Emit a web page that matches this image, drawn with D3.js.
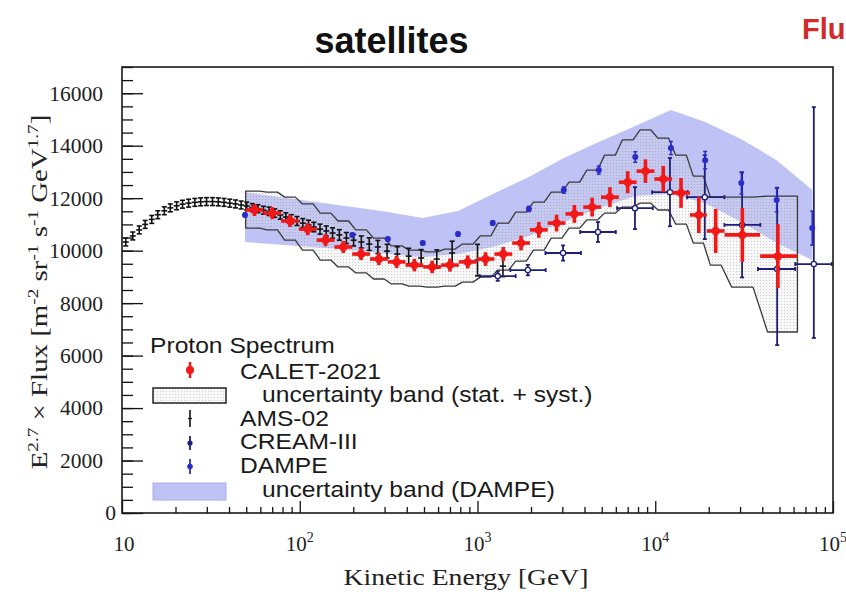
<!DOCTYPE html>
<html>
<head>
<meta charset="utf-8">
<script src="https://cdn.jsdelivr.net/npm/d3@7"></script>
<style>
  body { margin: 0; background: #fff; }
  svg { display: block; }
</style>
</head>
<body>
<svg id="chart" width="846" height="592"></svg>
<script>
// ---------------- data ----------------
// AMS-02 proton flux (E^2.7 x flux)
const amsE   = [10.5, 11.5, 12.5, 13.5, 14.7, 15.9, 17.3, 18.7, 20.3, 21.9, 23.7, 25.7, 27.7, 29.9, 32.3, 34.8, 37.5, 40.4, 43.5, 46.8, 50.3, 54.1, 58.2, 62.5, 67.2, 72.3, 77.7, 83.5, 89.7, 96.5, 104, 112, 120, 130, 141, 153, 167, 183, 201, 222, 246, 275, 310, 354, 410, 482, 590, 720, 1000, 1390];
const amsV   = [10330, 10560, 10790, 11000, 11190, 11370, 11520, 11630, 11710, 11770, 11810, 11840, 11860, 11870, 11870, 11860, 11840, 11810, 11780, 11740, 11700, 11640, 11600, 11540, 11500, 11430, 11360, 11280, 11200, 11130, 11050, 10980, 10900, 10820, 10750, 10670, 10600, 10480, 10400, 10330, 10250, 10140, 9980, 9870, 9790, 9720, 9680, 9910, 9640, 9410];
const amsErr = [150, 150, 150, 150, 150, 150, 150, 150, 150, 150, 150, 150, 150, 150, 150, 150, 150, 150, 150, 150, 150, 150, 150, 150, 160, 160, 160, 160, 170, 170, 170, 180, 180, 190, 190, 200, 200, 210, 220, 230, 240, 250, 260, 280, 300, 320, 350, 450, 600, 400];

// CALET-2021 bins: centre, low edge, high edge (GeV)
const calE  = [55.6, 70.0, 88.1, 110.9, 139.6, 175.8, 221.3, 278.6, 350.8, 441.6, 555.9, 699.8, 881.0, 1109, 1396, 1758, 2213, 2786, 3508, 4416, 5559, 6998, 8810, 11092, 13964, 17579, 21878, 30903, 48978];
const calLo = [49.6, 62.4, 78.5, 98.9, 124.5, 156.7, 197.2, 248.3, 312.6, 393.6, 495.5, 623.7, 785.2, 988.6, 1245, 1567, 1972, 2483, 3126, 3936, 4955, 6237, 7852, 9886, 12445, 15668, 19500, 24550, 38900];
const calHi = [62.4, 78.5, 98.9, 124.5, 156.7, 197.2, 248.3, 312.6, 393.6, 495.5, 623.7, 785.2, 988.6, 1245, 1567, 1972, 2483, 3126, 3936, 4955, 6237, 7852, 9886, 12445, 15668, 19500, 24550, 38900, 63100];
const calV  = [11550, 11430, 11130, 10820, 10400, 10140, 9870, 9680, 9570, 9450, 9380, 9450, 9570, 9680, 9870, 10290, 10790, 11050, 11400, 11660, 12040, 12610, 13030, 12730, 12200, 11360, 10750, 10600, 9790];
const calErr = [230, 230, 230, 230, 230, 230, 230, 230, 230, 240, 240, 250, 250, 260, 270, 280, 300, 320, 340, 360, 380, 420, 450, 500, 570, 690, 840, 1030, 1220];
// CALET uncertainty band (stat. + syst.)
const calBandUp  = [12270, 12230, 12040, 11780, 11430, 11130, 10790, 10480, 10180, 10020, 9950, 10060, 10250, 10560, 11050, 11470, 11850, 12230, 12610, 13070, 13640, 14220, 14600, 14290, 13640, 12840, 12040, 12040, 12080];
const calBandLow = [10860, 10790, 10400, 10020, 9640, 9380, 9150, 8920, 8730, 8650, 8610, 8650, 8800, 8990, 9260, 9600, 10020, 10480, 10860, 11170, 11430, 11660, 11810, 11550, 11010, 10290, 9450, 8610, 6900];

// CREAM-III
const crE     = [1300, 1920, 3030, 4760, 7690, 12100, 19000, 30800, 48500, 78000];
const crLo    = [1030, 1530, 2410, 3780, 6100, 9600, 15100, 24500, 37800, 61300];
const crHi    = [1640, 2420, 3820, 6000, 9690, 15200, 24500, 39000, 61300, 98500];
const crV     = [9030, 9260, 9910, 10710, 11620, 12230, 12040, 10980, 9300, 9490];
const crErrUp = [180, 200, 290, 380, 800, 1300, 1600, 2000, 3100, 5980];
const crErrDn = [180, 200, 290, 380, 800, 1300, 1600, 2000, 2900, 2820];

// DAMPE
const dmpE   = [49.2, 197.6, 313, 492, 777, 1218, 1946, 3059, 4812, 7720, 12250, 19090, 30500, 48200, 76400];
const dmpV   = [11360, 10600, 10440, 10290, 10630, 11050, 11590, 12310, 13070, 13570, 13910, 13450, 12580, 11930, 10860];
const dmpErr = [60, 60, 60, 60, 70, 80, 100, 120, 150, 200, 250, 330, 420, 450, 650];
const dmpBandUp  = [12230, 11660, 11470, 11240, 11510, 12160, 12810, 13530, 14140, 14750, 15360, 14900, 14250, 13450, 12310];
const dmpBandLow = [10330, 10020, 9870, 9760, 9870, 10140, 10560, 11090, 11620, 12080, 12160, 11810, 11090, 10290, 9640];

// axes
const xMajor = [10, 100, 1000, 10000, 100000];
const xMajorExp = ["", "2", "3", "4", "5"];
const yMajor = [0, 2000, 4000, 6000, 8000, 10000, 12000, 14000, 16000];

const legendItems = ["CALET-2021", "uncertainty band (stat. + syst.)", "AMS-02", "CREAM-III", "DAMPE", "uncertainty band (DAMPE)"];

// ---------------- drawing ----------------
const svg = d3.select("#chart");
svg.append("rect").attr("width", 846).attr("height", 592).attr("fill", "#fff");

const x = d3.scaleLog().domain([10, 1e5]).range([122, 833]);
const y = d3.scaleLinear().domain([0, 17000]).range([513, 67]);

const COL_CAL = "#f21818", COL_CREAM = "#1e1e78", COL_DMP = "#2b2bcc", COL_BAND = "#bec2f5";

const defs = svg.append("defs");
const pat = defs.append("pattern").attr("id", "dots")
  .attr("width", 3).attr("height", 3).attr("patternUnits", "userSpaceOnUse");
pat.append("rect").attr("width", 3).attr("height", 3).attr("fill", "rgba(225,225,225,0.22)");
pat.append("rect").attr("x", 1).attr("y", 1).attr("width", 1).attr("height", 1).attr("fill", "rgba(110,110,110,0.32)");

defs.append("clipPath").attr("id", "frameClip").append("rect")
  .attr("x", 122).attr("y", 67).attr("width", 711).attr("height", 446);

const plot = svg.append("g").attr("clip-path", "url(#frameClip)");

// DAMPE uncertainty band
const bandPts = dmpE.map((e, i) => [x(e), y(dmpBandUp[i])])
  .concat(dmpE.map((e, i) => [x(e), y(dmpBandLow[i])]).reverse());
plot.append("path").attr("d", d3.line()(bandPts) + "Z")
  .attr("fill", COL_BAND).attr("stroke", "none");

// CALET band as a staircase following the energy bins
function stairs(vals) {
  const pts = [];
  const n = vals.length;
  calLo.forEach((lo, i) => {
    const a = x(lo), b = x(calHi[i]);
    const ins = (b - a) * 0.2;
    pts.push([i === 0 ? a : a + ins, y(vals[i])]);
    pts.push([i === n - 1 ? b : b - ins, y(vals[i])]);
  });
  return pts;
}
const calPoly = stairs(calBandUp).concat(stairs(calBandLow).reverse());
plot.append("path").attr("d", d3.line()(calPoly) + "Z")
  .attr("fill", "url(#dots)").attr("stroke", "#3a3a3a").attr("stroke-width", 1.3)
  .attr("stroke-linejoin", "round");

// AMS-02 points
const ams = plot.append("g").attr("stroke", "#111").attr("stroke-width", 1.6);
amsE.forEach((e, i) => {
  const cx = x(e), cy = y(amsV[i]);
  const t = y(amsV[i] + amsErr[i]), b = y(amsV[i] - amsErr[i]);
  ams.append("line").attr("x1", cx).attr("x2", cx).attr("y1", t).attr("y2", b);
  ams.append("line").attr("x1", cx - 2.5).attr("x2", cx + 2.5).attr("y1", t).attr("y2", t);
  ams.append("line").attr("x1", cx - 2.5).attr("x2", cx + 2.5).attr("y1", b).attr("y2", b);
  ams.append("line").attr("x1", cx - 3).attr("x2", cx + 3).attr("y1", cy).attr("y2", cy);
});

// CREAM-III points
const cr = plot.append("g").attr("stroke", COL_CREAM).attr("stroke-width", 1.8);
crE.forEach((e, i) => {
  const cx = x(e), cy = y(crV[i]);
  cr.append("line").attr("x1", x(crLo[i])).attr("x2", x(crHi[i])).attr("y1", cy).attr("y2", cy);
  cr.append("line").attr("x1", cx).attr("x2", cx).attr("y1", y(crV[i] + crErrUp[i])).attr("y2", y(crV[i] - crErrDn[i]));
  [x(crLo[i]), x(crHi[i])].forEach(px => cr.append("line").attr("x1", px).attr("x2", px).attr("y1", cy - 2).attr("y2", cy + 2));
  [y(crV[i] + crErrUp[i]), y(crV[i] - crErrDn[i])].forEach(py => cr.append("line").attr("x1", cx - 2).attr("x2", cx + 2).attr("y1", py).attr("y2", py));
  cr.append("circle").attr("cx", cx).attr("cy", cy).attr("r", 2.6).attr("fill", "#fff").attr("stroke-width", 1.3);
});

// DAMPE points
const dm = plot.append("g").attr("stroke", COL_DMP).attr("stroke-width", 1.5);
dmpE.forEach((e, i) => {
  const cx = x(e), cy = y(dmpV[i]);
  const t = y(dmpV[i] + dmpErr[i]), b = y(dmpV[i] - dmpErr[i]);
  dm.append("line").attr("x1", cx).attr("x2", cx).attr("y1", t).attr("y2", b);
  dm.append("line").attr("x1", cx - 2).attr("x2", cx + 2).attr("y1", t).attr("y2", t);
  dm.append("line").attr("x1", cx - 2).attr("x2", cx + 2).attr("y1", b).attr("y2", b);
  dm.append("circle").attr("cx", cx).attr("cy", cy).attr("r", 3).attr("fill", COL_DMP).attr("stroke", "none");
});

// CALET points
const cal = plot.append("g").attr("stroke", COL_CAL).attr("stroke-width", 3.6).attr("stroke-linecap", "butt");
calE.forEach((e, i) => {
  const cx = x(e), cy = y(calV[i]);
  cal.append("line").attr("x1", x(calLo[i])).attr("x2", x(calHi[i])).attr("y1", cy).attr("y2", cy);
  cal.append("line").attr("x1", cx).attr("x2", cx).attr("y1", y(calV[i] + calErr[i])).attr("y2", y(calV[i] - calErr[i]));
  cal.append("circle").attr("cx", cx).attr("cy", cy).attr("r", 4.2).attr("fill", COL_CAL).attr("stroke", "none");
});

// ---------------- axes ----------------
const axisFont = "'Liberation Serif', 'Times New Roman', serif";

// y axis: minor ticks every 500, major every 2000
svg.append("g").attr("transform", "translate(122,0)")
  .call(d3.axisLeft(y).tickValues(d3.range(0, 17001, 500)).tickSize(-11).tickFormat(""))
  .call(g => g.select(".domain").remove())
  .call(g => g.selectAll("line").attr("stroke", "#111").attr("stroke-width", 1.3));
const yAx = svg.append("g").attr("transform", "translate(122,0)")
  .call(d3.axisLeft(y).tickValues(yMajor).tickSize(-21).tickPadding(21).tickFormat(d3.format("d")))
  .call(g => g.select(".domain").remove())
  .call(g => g.selectAll("line").attr("stroke", "#111").attr("stroke-width", 1.3));
yAx.selectAll("text").attr("font-family", axisFont).attr("font-size", 21.5).attr("fill", "#222")
  .attr("x", d => d === 0 ? -6 : -19);

// x axis: log ticks
const xMinor = [];
[10, 100, 1000, 10000].forEach(dec => { for (let k = 2; k <= 9; k++) xMinor.push(dec * k); });
svg.append("g").attr("transform", "translate(0,513)")
  .call(d3.axisBottom(x).tickValues(xMinor).tickSize(-6).tickFormat(""))
  .call(g => g.select(".domain").remove())
  .call(g => g.selectAll("line").attr("stroke", "#111").attr("stroke-width", 1.3));
svg.append("g").attr("transform", "translate(0,513)")
  .call(d3.axisBottom(x).tickValues(xMajor).tickSize(-12).tickFormat(""))
  .call(g => g.select(".domain").remove())
  .call(g => g.selectAll("line").attr("stroke", "#111").attr("stroke-width", 1.3));

const xLab = svg.append("g").attr("font-family", axisFont).attr("fill", "#222");
xMajor.forEach((v, i) => {
  const t = xLab.append("text").attr("x", x(v) + (i === 0 ? 2 : 0)).attr("y", 551)
    .attr("text-anchor", "middle").attr("font-size", 21);
  t.append("tspan").text("10");
  if (xMajorExp[i]) t.append("tspan").attr("font-size", 14).attr("dy", -9).text(xMajorExp[i]);
});

// frame
svg.append("rect").attr("x", 122).attr("y", 67).attr("width", 711).attr("height", 446)
  .attr("fill", "none").attr("stroke", "#1a1a1a").attr("stroke-width", 1.6);

// axis titles
function fitLength(sel, target, base) {
  const w = sel.node().getComputedTextLength();
  sel.attr("transform", base + ` scale(${target / w},1)`);
}
const xt = svg.append("text").attr("font-family", axisFont).attr("font-size", 24)
  .attr("fill", "#222").attr("text-anchor", "middle").text("Kinetic Energy [GeV]");
fitLength(xt, 245, "translate(466,585)");

const yParts = [["E", 0], ["2.7", 1], [" \u00d7 Flux [m", 0], ["-2", 1], [" sr", 0], ["-1", 1], [" s", 0], ["-1", 1], [" GeV", 0], ["1.7", 1], ["]", 0]];
const yt = svg.append("text").attr("font-family", axisFont).attr("font-size", 22.5)
  .attr("fill", "#222").attr("text-anchor", "middle");
let raised = false;
yParts.forEach(([s, sup]) => {
  const ts = yt.append("tspan").text(s);
  if (sup) { ts.attr("font-size", 15).attr("dy", raised ? 0 : -9); raised = true; }
  else { ts.attr("dy", raised ? 9 : 0); raised = false; }
});
fitLength(yt, 355, "translate(47,292) rotate(-90)");

// ---------------- legend ----------------
const legFont = "'Liberation Sans', Arial, Helvetica, sans-serif";
const leg = svg.append("g").attr("font-family", legFont).attr("font-size", 22).attr("fill", "#1a1a1a");
function legText(s, tx, ty) {
  leg.append("text").attr("transform", `translate(${tx},${ty}) scale(1.12,1)`).text(s);
}
legText("Proton Spectrum", 150, 353);
legText(legendItems[0], 240, 379);
legText(legendItems[1], 262, 402);
legText(legendItems[2], 240, 426);
legText(legendItems[3], 240, 449);
legText(legendItems[4], 240, 473);
legText(legendItems[5], 262, 497);

// legend symbols
leg.append("line").attr("x1", 190).attr("x2", 190).attr("y1", 362).attr("y2", 378)
  .attr("stroke", COL_CAL).attr("stroke-width", 2.5);
leg.append("circle").attr("cx", 190).attr("cy", 370).attr("r", 4).attr("fill", COL_CAL);
leg.append("rect").attr("x", 153).attr("y", 388).attr("width", 73).attr("height", 15)
  .attr("fill", "url(#dots)").attr("stroke", "#222").attr("stroke-width", 1.5);
leg.append("line").attr("x1", 190).attr("x2", 190).attr("y1", 410).attr("y2", 427)
  .attr("stroke", "#111").attr("stroke-width", 1.6);
leg.append("line").attr("x1", 188).attr("x2", 192).attr("y1", 418.5).attr("y2", 418.5)
  .attr("stroke", "#111").attr("stroke-width", 1.3);
leg.append("line").attr("x1", 190).attr("x2", 190).attr("y1", 436).attr("y2", 450)
  .attr("stroke", COL_CREAM).attr("stroke-width", 1.8);
leg.append("circle").attr("cx", 190).attr("cy", 443).attr("r", 2.6).attr("fill", COL_CREAM);
leg.append("line").attr("x1", 190).attr("x2", 190).attr("y1", 459).attr("y2", 474)
  .attr("stroke", COL_DMP).attr("stroke-width", 1.8);
leg.append("circle").attr("cx", 190).attr("cy", 466.5).attr("r", 2.8).attr("fill", COL_DMP);
leg.append("rect").attr("x", 153).attr("y", 483).attr("width", 73).attr("height", 17)
  .attr("fill", COL_BAND).attr("stroke", "#a9aee8").attr("stroke-width", 1);

// ---------------- titles ----------------
svg.append("text").attr("x", 391.5).attr("y", 53).attr("text-anchor", "middle")
  .attr("font-family", legFont).attr("font-weight", "bold").attr("font-size", 36)
  .attr("fill", "#111").text("satellites");
svg.append("text").attr("x", 802).attr("y", 39)
  .attr("font-family", legFont).attr("font-weight", "bold").attr("font-size", 29)
  .attr("fill", "#d12a2a").text("Flu");
</script>
</body>
</html>
